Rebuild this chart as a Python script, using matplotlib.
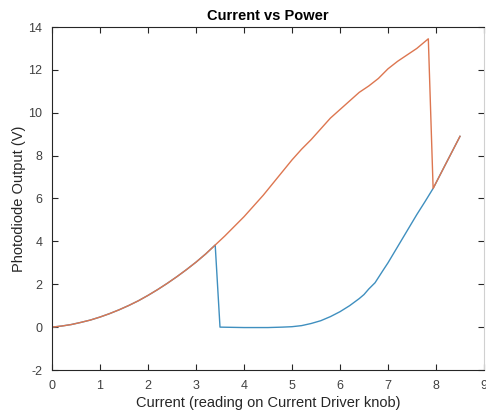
import matplotlib
matplotlib.use("Agg")
import matplotlib.pyplot as plt

# readings taken from the plot (current knob, photodiode volts)
# rising sweep (blue)
cur_up = [0.0, 0.2, 0.4, 0.6, 0.8, 1.0, 1.2, 1.4, 1.6, 1.8, 2.0, 2.2, 2.4, 2.6, 2.8, 3.0,
          3.2, 3.4, 3.5, 4.0, 4.5, 4.8, 5.0, 5.2, 5.4, 5.6, 5.8, 6.0, 6.2, 6.4, 6.5,
          6.6, 6.73, 6.9, 7.0, 7.2, 7.4, 7.6, 7.77, 7.94, 8.2, 8.5]
volt_up = [0.0, 0.05, 0.12, 0.22, 0.33, 0.47, 0.63, 0.81, 1.01, 1.23, 1.48, 1.75, 2.04, 2.35,
           2.68, 3.03, 3.41, 3.83, 0.0, -0.02, -0.02, 0.0, 0.02, 0.07, 0.17, 0.3, 0.49,
           0.72, 1.0, 1.33, 1.52, 1.78, 2.07, 2.66, 3.0, 3.75, 4.5, 5.25, 5.85, 6.47, 7.6, 8.9]

# falling sweep (orange)
cur_down = [0.0, 0.2, 0.4, 0.6, 0.8, 1.0, 1.2, 1.4, 1.6, 1.8, 2.0, 2.2, 2.4, 2.6, 2.8, 3.0,
            3.2, 3.4, 3.6, 3.8, 4.0, 4.2, 4.4, 4.6, 4.8, 5.0, 5.2, 5.4, 5.6, 5.8, 6.0,
            6.2, 6.4, 6.6, 6.8, 7.0, 7.2, 7.4, 7.6, 7.84, 7.94, 8.2, 8.5]
volt_down = [0.0, 0.05, 0.12, 0.22, 0.33, 0.47, 0.63, 0.81, 1.01, 1.23, 1.48, 1.75, 2.04, 2.35,
             2.68, 3.03, 3.41, 3.83, 4.25, 4.7, 5.15, 5.65, 6.15, 6.7, 7.25, 7.8, 8.3, 8.75,
             9.25, 9.75, 10.15, 10.55, 10.95, 11.25, 11.6, 12.05, 12.4, 12.7, 13.0, 13.45,
             6.47, 7.6, 8.9]

x_ticks = list(range(0, 10))
y_ticks = list(range(-2, 15, 2))

plt.rcParams['font.family'] = ['Liberation Sans', 'DejaVu Sans']
plt.rcParams['axes.unicode_minus'] = False

fig = plt.figure(figsize=(4.86, 4.15), dpi=100)
ax = fig.add_axes([52/486, 45/415, 432/486, 343/415])

ax.plot(cur_up, volt_up, color='#3f8fbf', lw=1.0)
ax.plot(cur_down, volt_down, color='#dd7650', lw=1.0)

ax.set_xlim(0, 9)
ax.set_ylim(-2, 14)
ax.set_xticks(x_ticks)
ax.set_yticks(y_ticks)

dark = '#262626'
for s in ax.spines.values():
    s.set_color(dark)
    s.set_linewidth(0.8)
ax.spines['right'].set_color('#d0d0d0')
ax.tick_params(direction='in', length=4, width=0.8, top=True, right=True,
               labelsize=9, colors=dark, labelcolor='#404040', pad=7)

ax.set_title('Current vs Power', fontsize=10.5, fontweight='bold', color='black', pad=5)
ax.set_xlabel('Current (reading on Current Driver knob)', fontsize=10.5, color='#262626', labelpad=3)
ax.set_ylabel('Photodiode Output (V)', fontsize=10.5, color='#262626', labelpad=2)

fig.savefig('out.png', dpi=100)
